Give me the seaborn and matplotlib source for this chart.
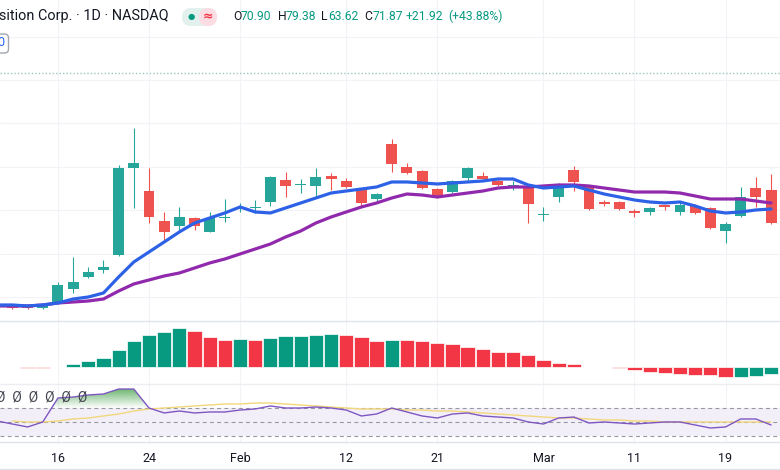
import numpy as np
import matplotlib
matplotlib.use('Agg')
import matplotlib.pyplot as plt
from matplotlib.patches import FancyBboxPatch, PathPatch
from matplotlib.path import Path
from matplotlib.lines import Line2D
from matplotlib.colors import to_rgb
import seaborn as sns

# bar index, 0 = Jan 16 (one bar per trading day)
bars = np.arange(-4, 48)

opens = [8.16, 7.93, 7.95, 7.47, 8.85, 11.85, 14.61, 16.22, 19.68, 39.72,
         34.42, 27.51, 26.36, 28.20, 24.98, 28.09, 30.28, 30.51, 31.89, 36.96,
         35.69, 35.58, 37.88, 36.73, 34.88, 32.58, 45.25, 39.95, 39.03, 34.88,
         34.19, 37.42, 37.88, 36.73, 35.46, 35.35, 28.78, 33.04, 39.26, 35.58,
         31.89, 31.89, 29.82, 29.59, 31.08, 29.59, 30.97, 30.51, 25.21, 28.66,
         35.11, 34.65]
highs = [8.39, 8.16, 8.18, 8.39, 13.46, 19.22, 16.92, 18.53, 40.41, 48.94,
         39.72, 29.59, 30.74, 28.43, 29.59, 32.58, 31.66, 32.35, 37.88, 38.80,
         37.19, 39.72, 38.57, 37.42, 35.11, 33.96, 46.40, 40.87, 39.26, 35.11,
         36.96, 39.95, 38.80, 37.19, 36.73, 35.81, 30.74, 36.27, 40.18, 35.81,
         32.35, 32.12, 30.28, 30.74, 31.20, 31.89, 31.43, 30.74, 27.28, 35.35,
         37.65, 38.34]
lows = [7.47, 7.24, 7.30, 7.24, 8.62, 10.92, 14.38, 15.53, 19.45, 30.51,
        27.05, 23.13, 25.44, 25.44, 24.98, 27.28, 29.59, 29.36, 30.97, 33.04,
        33.96, 33.04, 34.65, 35.11, 30.74, 31.89, 38.80, 38.34, 34.88, 32.81,
        33.96, 36.73, 36.96, 35.58, 34.65, 27.05, 27.51, 31.89, 34.42, 30.05,
        30.97, 30.05, 28.43, 28.90, 30.05, 28.90, 29.13, 25.67, 22.44, 28.43,
        30.74, 26.82]
closes = [7.70, 7.47, 7.52, 8.16, 12.77, 13.46, 15.76, 16.92, 39.72, 40.87,
          28.43, 24.98, 28.43, 26.36, 28.20, 28.20, 30.51, 30.74, 37.65, 35.58,
          35.81, 37.65, 37.19, 35.35, 31.66, 33.73, 40.64, 38.57, 35.11, 33.27,
          36.73, 39.72, 37.19, 35.81, 35.58, 31.43, 28.90, 36.04, 36.50, 30.28,
          31.43, 30.28, 29.36, 30.51, 30.85, 31.20, 29.36, 25.90, 26.82, 33.04,
          33.04, 27.05]

ma_fast = [8.16, 8.16, 7.93, 8.16, 8.62, 9.54, 10.00, 10.92, 14.61, 18.07,
           20.37, 22.67, 24.98, 27.05, 28.20, 29.36, 30.74, 29.59, 29.36, 30.51,
           31.66, 32.81, 33.96, 34.42, 34.88, 35.35, 36.50, 36.50, 36.27, 36.04,
           36.27, 36.50, 36.73, 37.19, 37.19, 35.81, 35.11, 35.35, 35.58, 34.65,
           33.73, 33.04, 32.35, 31.89, 31.66, 31.89, 30.97, 29.82, 29.36, 29.59,
           30.05, 30.28]
ma_slow = [7.93, 7.93, 7.93, 8.16, 8.62, 8.85, 9.08, 9.54, 11.38, 13.00,
           13.92, 14.84, 15.53, 16.68, 17.84, 18.76, 19.91, 21.06, 22.21, 23.82,
           25.21, 27.05, 28.43, 29.59, 30.74, 31.66, 32.81, 33.73, 33.50, 33.04,
           33.50, 33.96, 34.42, 35.11, 35.35, 35.35, 35.58, 35.81, 35.81, 35.58,
           35.11, 34.65, 34.19, 34.19, 34.19, 33.96, 33.27, 32.58, 32.58, 32.58,
           32.12, 31.66]
last_price_line = 61.6

macd_hist = [-0.03, -0.04, -0.05, -0.06, 0.05, 0.30, 0.57, 0.90, 1.70, 2.60,
             3.20, 3.50, 3.90, 3.60, 3.00, 2.70, 2.80, 2.70, 2.90, 3.10,
             3.12, 3.20, 3.30, 3.20, 3.00, 2.65, 2.72, 2.68, 2.60, 2.40,
             2.30, 2.00, 1.80, 1.55, 1.50, 1.20, 0.70, 0.40, 0.30, 0.03,
             -0.03, -0.07, -0.27, -0.53, -0.63, -0.70, -0.77, -0.80, -0.97, -0.96,
             -0.87, -0.73]

rsi = [51.4, 47.1, 42.9, 50.0, 84.3, 85.7, 88.6, 90.0, 97.1, 97.1,
       70.0, 62.9, 65.7, 62.9, 64.3, 64.3, 67.1, 68.6, 72.9, 70.0,
       70.0, 71.4, 70.0, 67.1, 58.6, 61.4, 70.0, 64.3, 58.6, 55.7,
       61.4, 62.9, 58.6, 57.1, 55.7, 50.0, 47.1, 55.7, 57.1, 48.6,
       50.0, 48.6, 47.1, 48.6, 50.0, 50.0, 45.7, 41.4, 42.9, 54.3,
       54.3, 45.7]
rsi_ma = [np.nan, 51.4, 50.0, 50.0, 51.4, 54.3, 55.7, 58.6, 61.4, 65.7,
          68.6, 70.0, 71.4, 72.9, 74.3, 75.7, 75.7, 77.1, 77.1, 75.7,
          74.3, 72.9, 71.4, 70.0, 68.6, 68.6, 68.6, 67.1, 67.1, 65.7,
          65.7, 64.3, 62.9, 61.4, 60.0, 58.6, 57.1, 55.7, 55.7, 54.3,
          52.9, 52.9, 51.4, 51.4, 50.0, 50.0, 50.0, 50.0, 50.0, 50.0,
          50.0, 50.0]

tick_pos = [0, 6, 12, 19, 25, 32, 38, 44]
tick_labels = ['16', '24', 'Feb', '12', '21', 'Mar', '11', '19']

UP = '#26a69a'
DOWN = '#ef5350'
GRID = '#f2f3f6'
W, H = 780, 470

sns.set_style('white')
plt.rcParams['font.family'] = ['Roboto', 'DejaVu Sans']

fig = plt.figure(figsize=(7.8, 4.7), dpi=100)


def fx(x):
    return x / W


def fy(y):
    return 1 - y / H


ax = fig.add_axes([0, fy(321), 1, 321 / H])
ax_m = fig.add_axes([0, fy(384), 1, 62 / H])
ax_r = fig.add_axes([0, fy(442), 1, 58 / H])

o = np.array(opens)
c = np.array(closes)
hi = np.array(highs)
lo = np.array(lows)
up = c >= o
col = np.where(up, UP, DOWN)

# main pane: grid, candles, moving averages
for v in range(10, 80, 10):
    ax.axhline(v, color=GRID, lw=0.8, zorder=0)
ax.axhline(last_price_line, color='#9cc6c0', lw=1, ls=(0, (1, 1.5)), zorder=1)
ax.vlines(bars, lo, hi, colors=col, lw=0.8, zorder=2)
body = np.maximum(np.abs(c - o), 0.25)
ax.bar(bars, body, bottom=np.minimum(o, c), width=0.72, color=col, lw=0, zorder=3)
sns.lineplot(x=bars, y=ma_slow, ax=ax, color='#9129ad', lw=2.3, zorder=4)
sns.lineplot(x=bars, y=ma_fast, ax=ax, color='#2e62e6', lw=2.3, zorder=5)
ax.set_ylim(4.47, 78.43)

# MACD histogram
h = np.array(macd_hist)
rising = np.concatenate([[False], np.diff(h) >= 0])
ax_m.bar(bars, h, width=0.94, color=np.where(rising, '#089981', '#f23645'),
         edgecolor='white', lw=0.5, zorder=2)
ax_m.set_ylim(-1.7, 4.5)

# RSI pane
r = np.array(rsi)
ax_r.axhspan(30, 70, color='#7e57c2', alpha=0.09, lw=0, zorder=0)
for lvl in (70, 50, 30):
    ax_r.axhline(lvl, color='#9598a1', lw=0.8, ls=(0, (3.5, 3)), zorder=1)
ob = ax_r.fill_between(bars, r, 70, where=r > 70, interpolate=True,
                       facecolor='none', edgecolor='none')
clip = PathPatch(Path.make_compound_path(*ob.get_paths()), transform=ax_r.transData,
                 facecolor='none', edgecolor='none')
ax_r.add_patch(clip)
grad = np.zeros((64, 1, 4))
grad[..., :3] = to_rgb('#43a047')
grad[:, 0, 3] = np.linspace(0.0, 0.85, 64)
img = ax_r.imshow(grad, extent=(bars[0], bars[-1], 70, 100), origin='lower',
                  aspect='auto', zorder=2)
img.set_clip_path(clip)
sns.lineplot(x=bars, y=rsi_ma, ax=ax_r, color='#f2d77a', lw=1.0, zorder=3)
sns.lineplot(x=bars, y=rsi, ax=ax_r, color='#7e57c2', lw=1.0, zorder=4)
ax_r.set_ylim(21.4, 104.3)

for a in (ax, ax_m, ax_r):
    a.set_xlim(-3.82, 47.59)
    a.set_facecolor('none')
    for s in a.spines.values():
        s.set_visible(False)
    for t in tick_pos:
        a.axvline(t, color=GRID, lw=0.8, zorder=0)
    a.set_yticks([])
    a.set_ylabel('')
    a.set_xticks([])

ax_r.set_xticks(tick_pos)
ax_r.set_xticklabels(tick_labels)
ax_r.tick_params(axis='x', length=0, pad=7, labelsize=9, labelcolor='#131722')

# pane separators
for yy, cc in ((321, '#e0e3eb'), (384, '#eceef2'), (442, '#e0e3eb'), (469, '#e0e3eb')):
    fig.add_artist(Line2D([0, 1], [fy(yy), fy(yy)], transform=fig.transFigure,
                          color=cc, lw=1))

# header legend
fig.text(fx(-1), fy(16), 'sition Corp. · 1D · NASDAQ', fontsize=10.4,
         color='#131722', va='center')
fig.add_artist(FancyBboxPatch((182, H - 26), 35, 18, boxstyle='round,pad=0,rounding_size=9',
                              transform=None, facecolor='#e2f1ee', edgecolor='none'))
fig.add_artist(FancyBboxPatch((199, H - 26), 18, 18, boxstyle='round,pad=0,rounding_size=9',
                              transform=None, facecolor='#fcdde4', edgecolor='none'))
fig.text(fx(191), fy(17), '●', fontsize=6, color='#089981', ha='center', va='center',
         family=['DejaVu Sans'])
fig.text(fx(207.5), fy(17), '≈', fontsize=9, color='#f23645', ha='center', va='center',
         family=['DejaVu Sans'], weight='bold')
pieces = [(233, 'O', '#131722'), (241, '70.90', '#089981'),
          (278, 'H', '#131722'), (286, '79.38', '#089981'),
          (321, 'L', '#131722'), (328, '63.62', '#089981'),
          (364, 'C', '#131722'), (373, '71.87', '#089981'),
          (406, '+21.92', '#089981'), (448, '(+43.88%)', '#089981')]
for px, s, cl in pieces:
    fig.text(fx(px), fy(16), s, fontsize=8.7, color=cl, va='center')

fig.add_artist(FancyBboxPatch((-12, H - 53), 20.5, 19, boxstyle='round,pad=0,rounding_size=4',
                              transform=None, facecolor='white', edgecolor='#a3a6af', lw=1))
fig.text(fx(0.5), fy(43), '0', fontsize=9, color='#2962ff', ha='center', va='center')

fig.text(fx(-4), fy(398), 'Ø  Ø  Ø  Ø  Ø  Ø', fontsize=10, color='#434651', va='center')

fig.savefig('out.png', dpi=100, facecolor='white')
